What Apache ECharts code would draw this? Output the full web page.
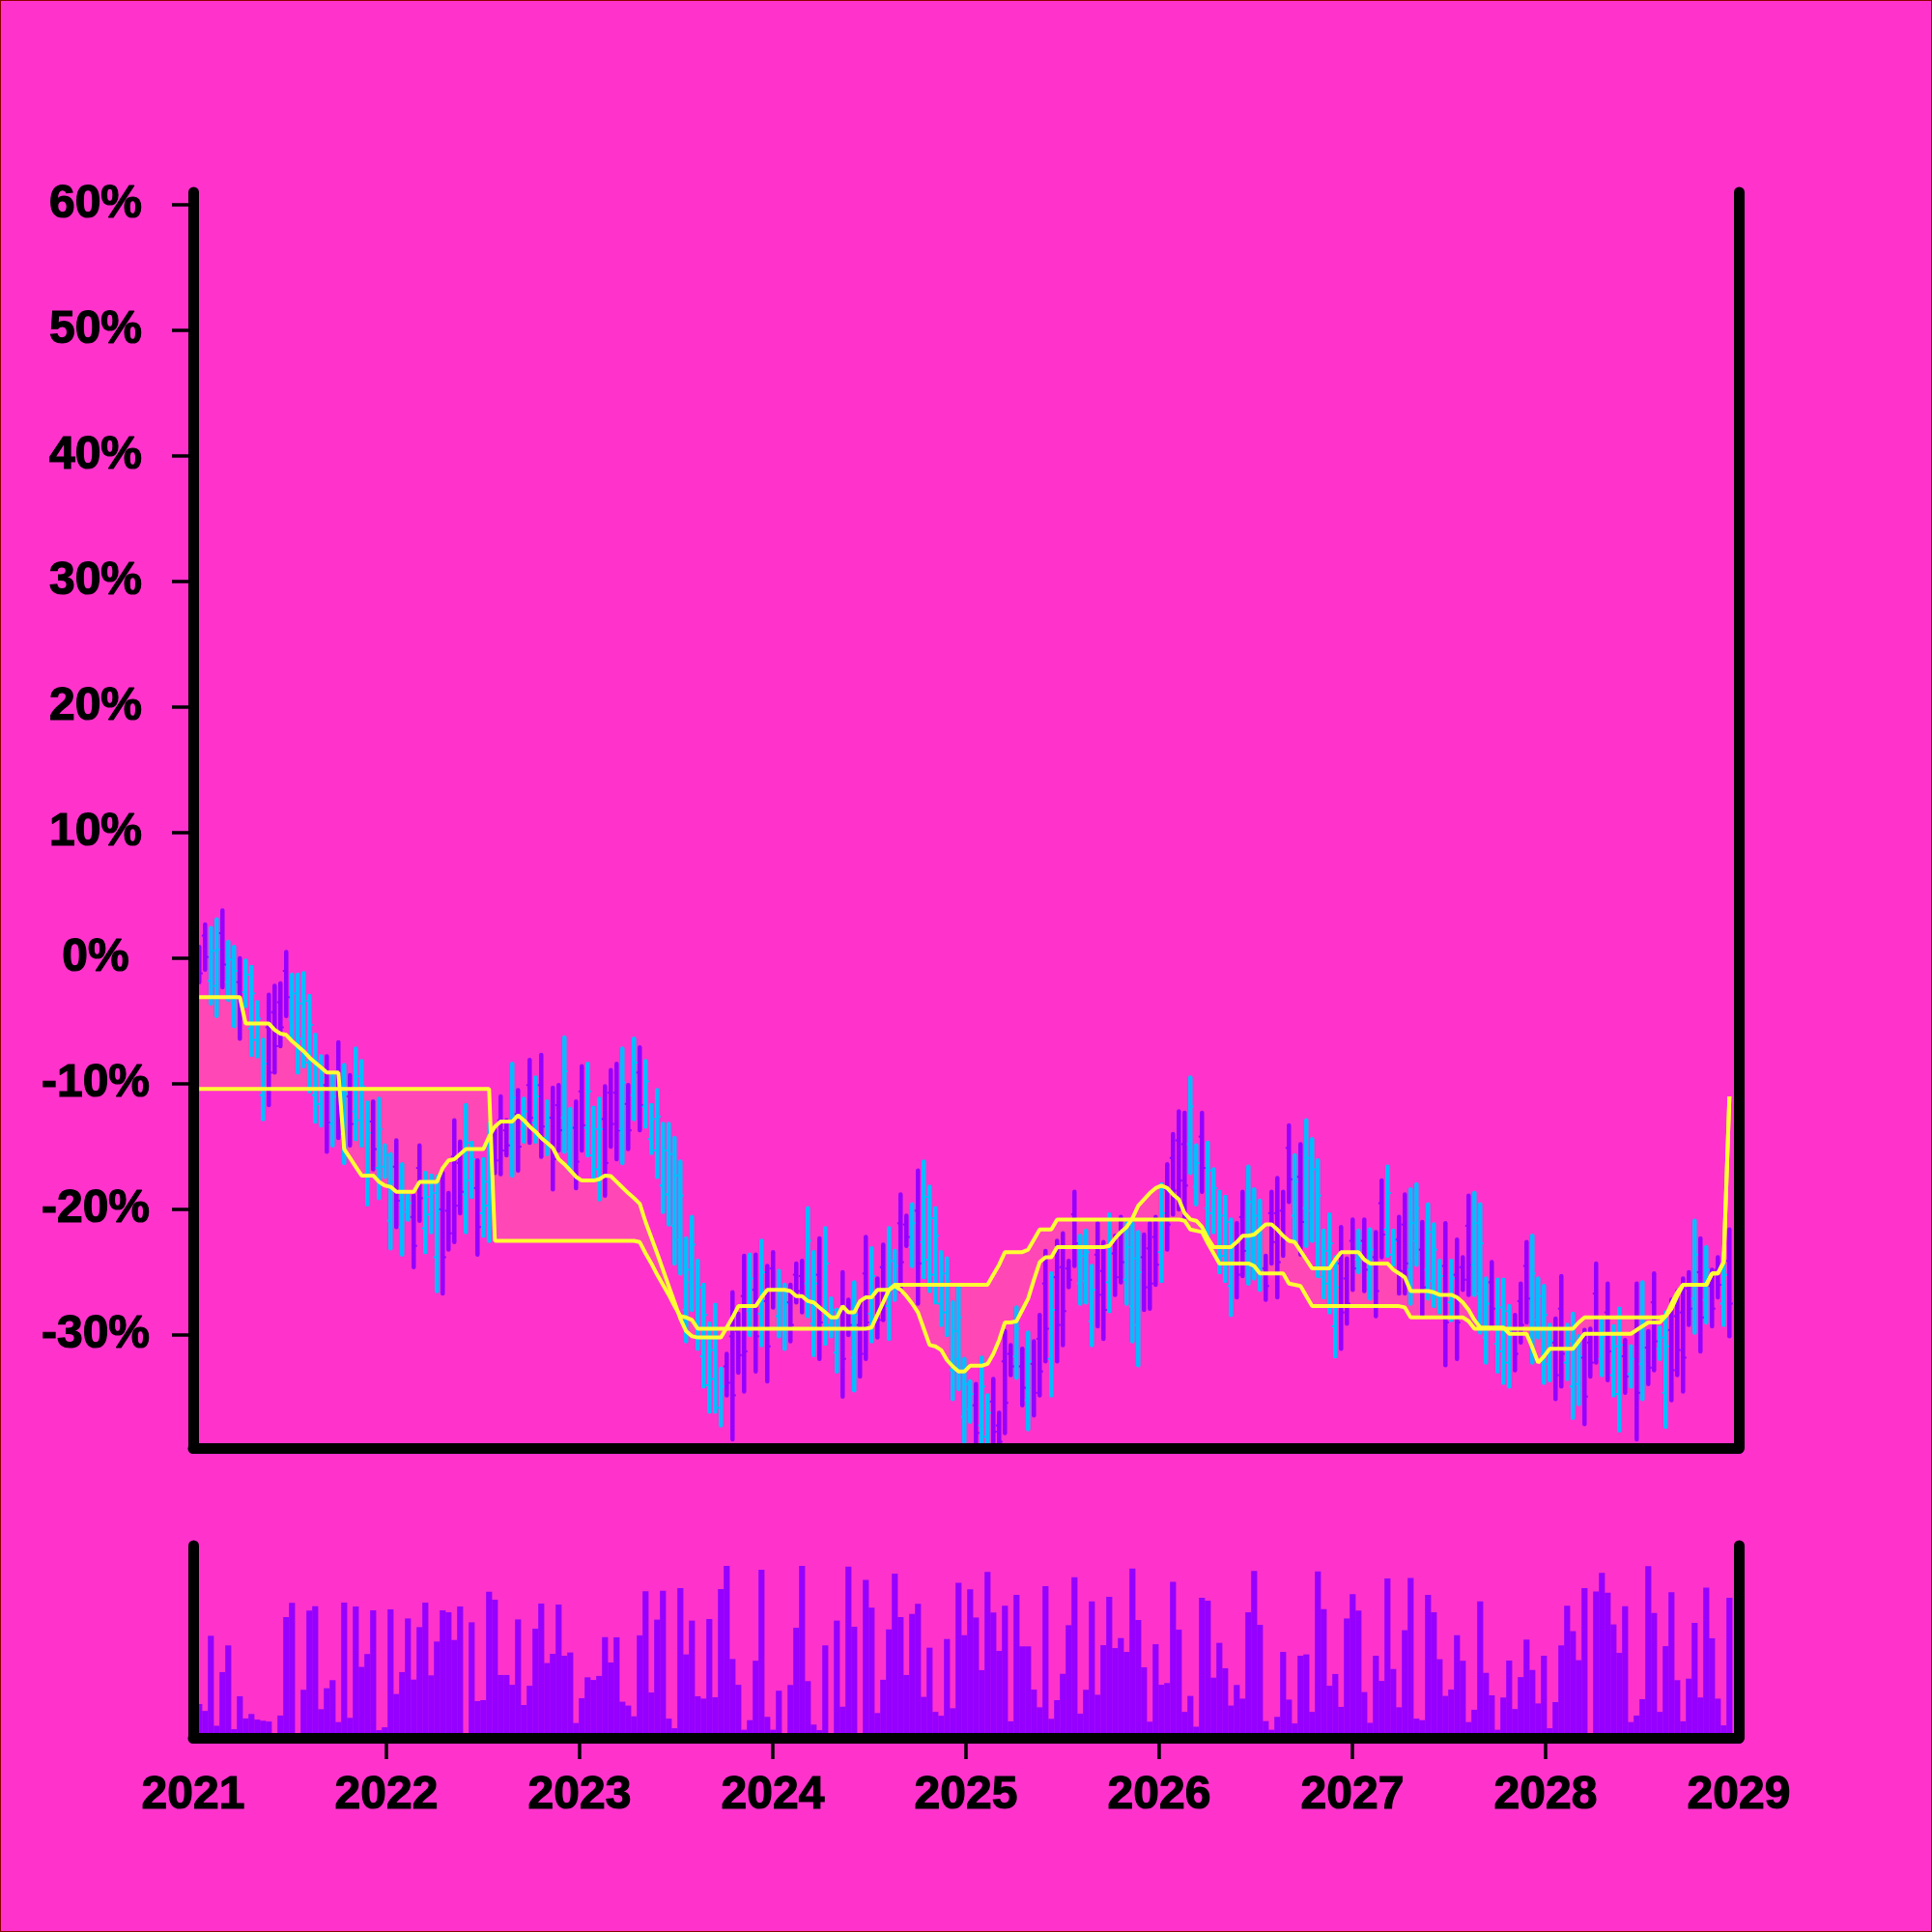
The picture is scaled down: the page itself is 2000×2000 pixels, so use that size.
<!DOCTYPE html>
<html>
<head>
<meta charset="utf-8">
<script src="https://cdn.jsdelivr.net/npm/echarts/dist/echarts.min.js"></script>
<style>
html,body{margin:0;padding:0;background:#ff33cc;}
#c{width:2000px;height:2000px;position:absolute;left:0;top:0;}
#frame{position:absolute;left:0;top:0;width:2000px;height:2000px;box-sizing:border-box;border:1px solid #8b0000;pointer-events:none;}
</style>
</head>
<body>
<div id="c"></div>
<div id="frame"></div>
<script>
// ---- data (percent values, 265 periods, ~11 days apart) ----
const high = [
0.9,2.7,2.4,3.1,3.8,1.3,0.9,0.0,-0.2,-0.7,
-3.5,-6.5,-2.9,-2.2,-2.0,0.5,-1.3,-1.3,-1.2,-3.0,
-6.1,-7.8,-7.8,-9.3,-6.7,-8.5,-9.3,-7.2,-8.2,-11.5,
-11.4,-11.2,-14.9,-15.6,-14.5,-16.4,-18.9,-18.9,-14.9,-17.1,
-17.3,-17.4,-17.1,-18.7,-12.9,-14.6,-11.7,-14.7,-16.1,-16.0,
-13.2,-13.7,-11.0,-12.9,-8.4,-10.5,-11.2,-8.1,-9.5,-7.7,
-11.4,-10.3,-10.1,-6.3,-12.0,-11.4,-8.6,-8.4,-11.9,-11.2,
-10.2,-8.9,-8.4,-7.2,-10.1,-6.4,-7.1,-8.2,-11.7,-10.5,
-13.2,-13.2,-14.3,-16.2,-22.3,-20.6,-24.1,-26.0,-29.1,-27.6,
-32.7,-31.5,-26.6,-28.3,-23.7,-23.6,-23.6,-22.5,-24.5,-23.4,
-24.9,-26.0,-26.0,-24.3,-24.1,-19.9,-23.4,-22.3,-21.5,-27.1,
-28.0,-25.0,-27.2,-25.8,-27.4,-22.2,-23.1,-25.5,-22.8,-21.5,
-23.3,-18.8,-20.5,-19.6,-16.9,-16.2,-18.2,-19.9,-23.4,-23.9,
-27.4,-26.2,-31.9,-33.7,-33.9,-31.8,-34.8,-33.5,-36.2,-29.7,
-30.8,-27.8,-31.1,-29.8,-30.5,-28.4,-23.3,-25.1,-22.5,-21.9,
-24.1,-18.6,-22.1,-21.7,-24.5,-21.1,-22.6,-20.4,-22.1,-20.6,
-21.1,-21.1,-21.8,-22.0,-21.1,-20.6,-18.0,-16.4,-14.0,-12.2,
-12.3,-9.5,-14.9,-12.3,-14.7,-16.8,-18.6,-19.0,-20.8,-21.1,
-18.6,-16.6,-18.4,-19.3,-23.7,-18.6,-17.5,-18.6,-13.3,-15.7,
-14.8,-12.9,-14.4,-16.1,-21.7,-20.4,-23.8,-21.4,-23.9,-20.8,
-21.7,-20.8,-21.6,-21.8,-17.7,-16.6,-21.7,-20.6,-18.8,-18.4,
-18.0,-21.0,-19.6,-21.2,-24.1,-21.1,-24.1,-22.4,-23.8,-18.9,
-18.7,-19.6,-25.5,-24.2,-25.6,-25.6,-27.7,-28.4,-25.9,-22.6,
-22.1,-25.5,-26.1,-29.2,-28.7,-25.3,-29.2,-28.3,-30.1,-29.6,
-29.5,-24.3,-28.8,-25.9,-29.3,-27.9,-30.4,-30.9,-25.9,-25.8,
-29.7,-25.1,-29.4,-28.2,-27.2,-26.5,-25.5,-25.0,-20.9,-22.3,
-23.0,-24.8,-23.8,-23.5,-21.6
];
const low = [
-1.9,-0.9,-3.6,-4.6,-2.3,-3.3,-5.4,-6.4,-3.8,-7.7,
-7.8,-12.8,-11.7,-9.1,-7.0,-4.6,-6.4,-9.1,-8.6,-10.6,
-13.0,-13.3,-15.4,-14.9,-14.3,-16.3,-14.9,-14.4,-14.9,-19.6,
-16.8,-19.1,-17.4,-23.1,-21.4,-23.6,-20.8,-24.6,-20.9,-23.4,
-21.8,-26.5,-26.7,-23.2,-22.6,-20.3,-21.8,-19.0,-23.6,-22.1,
-22.5,-17.1,-17.2,-15.7,-17.3,-16.9,-14.6,-14.7,-14.6,-15.8,
-15.6,-18.4,-15.3,-15.4,-16.9,-18.3,-15.3,-15.7,-17.4,-19.2,
-18.9,-15.0,-16.0,-16.3,-15.2,-12.8,-13.7,-13.4,-15.5,-17.4,
-20.2,-21.2,-24.3,-25.1,-30.5,-28.0,-31.1,-34.1,-36.1,-36.1,
-37.2,-34.8,-38.3,-33.0,-34.5,-30.0,-32.9,-30.8,-33.7,-27.8,
-30.1,-31.1,-30.5,-27.4,-28.2,-28.5,-31.6,-31.9,-30.7,-30.1,
-32.9,-34.9,-30.0,-34.4,-33.3,-31.9,-30.5,-30.2,-28.8,-30.3,
-27.2,-26.5,-22.9,-24.5,-27.5,-25.4,-26.5,-27.4,-29.2,-30.0,
-35.1,-34.3,-38.5,-36.9,-39.5,-39.5,-39.5,-39.5,-39.5,-37.8,
-33.2,-33.4,-35.6,-37.5,-36.4,-34.8,-32.1,-34.8,-32.1,-30.8,
-26.2,-24.5,-27.5,-27.4,-30.8,-29.3,-30.3,-28.1,-26.8,-25.8,
-27.5,-30.5,-32.4,-28.0,-27.9,-26.0,-25.7,-23.2,-20.4,-20.0,
-20.6,-17.1,-19.6,-18.6,-22.1,-21.8,-25.0,-25.7,-28.4,-27.0,
-25.3,-25.9,-25.5,-26.4,-27.2,-24.3,-27.0,-23.7,-19.4,-22.6,
-23.6,-22.9,-22.5,-25.3,-27.0,-28.2,-31.7,-31.1,-29.1,-26.4,
-25.0,-26.5,-27.1,-28.5,-23.8,-23.7,-24.4,-26.7,-26.7,-27.5,
-24.4,-28.4,-27.1,-27.7,-28.2,-32.4,-28.8,-31.9,-26.4,-26.8,
-26.8,-29.8,-32.2,-29.5,-32.9,-33.8,-34.1,-32.8,-30.6,-29.0,
-32.2,-30.2,-33.8,-33.6,-35.1,-34.1,-33.5,-36.6,-35.5,-37.1,
-33.3,-32.2,-33.2,-33.6,-34.8,-37.6,-34.6,-34.1,-38.3,-35.1,
-33.9,-32.8,-31.9,-37.3,-35.2,-33.2,-34.5,-29.2,-29.8,-31.3,
-29.0,-29.3,-27.0,-29.2,-30.1
];
const open = [
0.2,1.8,-1.8,-2.2,2.0,-1.9,-3.5,-1.9,-2.7,-5.6,
-6.5,-10.9,-5.5,-4.3,-3.5,-1.0,-4.9,-6.8,-6.4,-8.3,
-10.9,-11.6,-10.1,-13.2,-9.0,-14.0,-11.0,-12.2,-12.9,-17.2,
-13.0,-16.7,-16.6,-20.9,-16.6,-21.4,-20.2,-20.6,-16.7,-21.5,
-20.4,-23.8,-20.0,-20.1,-15.8,-16.3,-18.8,-17.7,-18.3,-20.3,
-19.7,-14.7,-12.9,-13.7,-14.6,-12.4,-13.6,-10.1,-13.1,-10.1,
-14.3,-12.7,-11.7,-12.7,-15.4,-13.5,-10.6,-13.5,-15.7,-16.8,
-12.8,-10.7,-10.7,-13.6,-11.6,-10.9,-9.1,-11.8,-14.4,-15.3,
-18.1,-18.8,-21.3,-22.4,-28.0,-25.8,-29.0,-31.7,-34.0,-33.5,
-35.8,-32.5,-30.1,-29.7,-26.9,-28.1,-26.4,-28.3,-27.3,-24.7,
-28.5,-29.6,-27.4,-25.2,-25.3,-25.9,-29.1,-25.2,-27.9,-29.2,
-31.4,-28.0,-28.0,-31.8,-29.2,-25.1,-28.3,-26.9,-24.6,-27.7,
-26.0,-21.1,-21.2,-23.0,-20.1,-22.6,-24.0,-25.2,-27.5,-28.2,
-32.8,-31.9,-36.5,-35.9,-35.6,-37.2,-38.1,-35.3,-37.2,-32.1,
-31.5,-31.7,-32.5,-35.2,-32.3,-30.3,-25.9,-31.9,-25.4,-24.6,
-24.7,-20.4,-25.9,-25.7,-28.9,-23.6,-24.9,-25.8,-23.5,-22.2,
-25.6,-27.7,-29.2,-23.8,-23.1,-22.2,-23.4,-18.4,-15.9,-14.5,
-14.8,-14.8,-18.2,-14.2,-19.9,-20.3,-23.1,-23.7,-26.1,-22.9,
-20.6,-23.1,-23.4,-24.3,-24.7,-20.3,-20.3,-20.1,-15.1,-20.5,
-17.4,-19.9,-20.1,-22.5,-25.4,-25.9,-29.3,-24.3,-25.5,-22.5,
-24.0,-22.5,-25.5,-23.8,-19.5,-21.6,-23.6,-22.4,-21.2,-24.8,
-22.5,-23.2,-24.8,-25.7,-27.0,-24.5,-27.4,-25.2,-24.6,-21.3,
-24.4,-26.7,-30.2,-25.8,-30.7,-31.3,-32.2,-29.7,-27.3,-24.5,
-29.2,-28.8,-31.5,-32.3,-30.6,-27.9,-32.2,-34.1,-33.9,-31.8,
-30.6,-26.7,-31.9,-28.2,-33.2,-34.7,-31.7,-33.1,-29.6,-32.3,
-31.0,-27.4,-31.1,-34.6,-29.6,-28.5,-28.2,-26.3,-27.1,-25.0,
-27.2,-26.1,-24.8,-27.5,-24.1
];
const close = [
-1.2,0.1,0.6,0.7,-0.5,-0.1,-1.0,-4.5,-1.3,-2.8,
-4.8,-8.4,-9.1,-7.0,-5.5,-3.1,-2.8,-3.6,-3.4,-5.3,
-8.2,-9.5,-13.1,-11.0,-12.0,-10.8,-13.2,-9.4,-10.2,-13.9,
-15.2,-13.6,-15.7,-17.8,-19.3,-18.6,-19.5,-22.9,-19.1,-19.0,
-18.7,-20.1,-23.8,-21.9,-19.7,-18.6,-14.7,-16.0,-21.4,-17.8,
-16.0,-16.1,-15.3,-14.9,-11.1,-15.0,-12.2,-12.7,-11.0,-13.4,
-12.7,-16.0,-13.7,-9.0,-13.5,-16.2,-13.3,-10.6,-13.6,-13.6,
-16.3,-13.2,-13.7,-9.9,-13.7,-8.3,-11.7,-9.8,-12.8,-12.6,
-15.3,-15.6,-17.3,-18.9,-24.8,-22.8,-26.2,-28.4,-31.2,-30.2,
-34.1,-33.8,-34.8,-31.6,-31.3,-25.5,-30.1,-25.0,-30.9,-26.5,
-26.5,-27.5,-29.2,-26.5,-27.0,-22.5,-25.9,-29.0,-24.3,-28.0,
-29.5,-31.9,-29.2,-28.4,-31.5,-29.0,-25.3,-28.8,-27.0,-24.1,
-24.5,-24.2,-22.2,-21.1,-24.3,-19.0,-20.7,-22.1,-25.1,-25.7,
-29.7,-28.6,-33.9,-34.7,-37.8,-34.1,-36.2,-37.7,-38.5,-35.4,
-32.5,-29.5,-34.2,-32.1,-34.6,-32.9,-29.5,-28.0,-29.2,-28.1,
-25.6,-22.7,-23.7,-23.4,-26.4,-26.8,-28.0,-22.7,-25.4,-24.2,
-23.0,-23.9,-25.0,-26.2,-25.9,-24.4,-20.3,-21.2,-18.5,-17.7,
-18.1,-11.8,-16.3,-16.7,-16.9,-18.3,-20.5,-21.0,-23.1,-25.2,
-23.3,-19.4,-20.5,-21.4,-26.1,-22.6,-24.2,-22.2,-17.6,-17.8,
-21.0,-15.9,-16.8,-18.9,-23.3,-22.7,-26.2,-28.2,-27.5,-24.7,
-22.7,-24.8,-23.2,-26.5,-22.0,-18.7,-22.5,-24.9,-24.3,-21.1,
-19.9,-26.2,-21.8,-23.2,-25.3,-29.0,-25.5,-29.0,-25.6,-24.4,
-21.1,-22.7,-27.5,-27.9,-27.8,-28.1,-29.6,-31.5,-29.2,-27.1,
-25.1,-26.9,-28.4,-30.5,-33.2,-31.5,-30.5,-30.8,-31.7,-34.9,
-32.2,-29.8,-30.1,-31.3,-30.9,-30.8,-33.3,-31.9,-34.6,-28.6,
-32.6,-30.5,-30.2,-30.9,-32.8,-31.2,-31.8,-27.9,-23.6,-28.6,
-24.8,-27.9,-26.0,-25.2,-27.5
];
const volume = [
17.6,14.0,53.1,6.3,34.2,48.1,4.5,21.6,10.1,12.4,
9.5,8.9,8.5,0,11.6,62.8,70.2,0,25.0,66.2,
68.5,14.9,25.8,30.0,8.2,70.4,10.4,68.3,36.9,43.6,
66.3,4.0,5.5,66.8,22.8,34.2,62.1,30.3,57.6,70.4,
32.5,50.1,66.3,65.3,50.9,68.3,0,60.1,19.1,19.6,
76.0,71.9,32.7,32.7,27.6,61.6,17.1,27.1,56.8,69.9,
38.9,43.7,69.3,42.7,44.4,7.7,20.6,31.5,30.1,32.2,
52.4,39.2,52.3,18.8,16.8,11.2,53.3,76.2,23.6,61.5,
76.5,10.0,5.0,77.9,43.4,61.0,21.6,20.4,61.8,21.1,
77.4,89.4,41.0,27.6,4.2,9.2,40.1,87.4,10.9,4.2,
24.5,0,27.5,57.3,89.4,29.5,6.9,4.0,48.1,0,
61.0,16.2,89.1,57.8,0,82.1,67.7,12.9,30.2,56.4,
85.4,62.8,32.7,64.5,69.7,21.3,46.9,13.5,11.5,51.4,
15.4,80.7,53.4,77.2,62.6,35.2,86.3,65.2,45.2,68.7,
8.6,74.4,47.6,47.6,25.1,15.9,78.9,9.9,19.6,33.3,
58.6,83.6,12.6,25.0,71.0,22.4,48.2,73.4,46.7,51.9,
44.7,88.1,61.3,36.7,8.4,48.7,27.6,28.5,81.2,56.3,
13.5,21.8,5.8,72.9,71.4,31.3,49.4,36.2,16.8,27.5,
20.4,65.3,86.8,58.8,8.7,4.2,10.9,44.7,19.9,7.5,
42.7,43.4,13.5,86.6,67.0,27.1,33.2,16.1,62.1,74.8,
66.2,23.8,7.8,42.7,29.6,82.9,35.8,15.9,56.0,83.2,
10.0,9.2,74.4,65.3,40.9,21.8,25.1,53.4,40.1,8.2,
14.6,71.0,33.8,22.1,4.2,21.0,40.2,15.0,31.6,51.1,
35.3,17.9,42.7,5.0,18.6,48.1,68.7,55.5,40.4,77.9,
0,76.1,85.8,75.5,59.0,44.2,68.5,8.2,11.6,20.1,
89.3,65.0,13.5,47.7,75.7,30.0,8.6,30.8,59.8,21.0,
78.1,51.8,20.4,6.5,72.9
];
const spanA = [
-3.1,-3.1,-3.1,-3.1,-3.1,-3.1,-3.1,-3.1,-5.2,-5.2,
-5.2,-5.2,-5.2,-5.7,-6.0,-6.1,-6.6,-7.0,-7.4,-7.9,
-8.3,-8.7,-9.1,-9.1,-9.1,-15.2,-15.9,-16.6,-17.3,-17.3,
-17.3,-17.8,-18.1,-18.2,-18.6,-18.6,-18.6,-18.6,-17.8,-17.8,
-17.8,-17.8,-16.7,-16.1,-16.0,-15.6,-15.2,-15.2,-15.2,-15.2,
-14.2,-13.4,-13.0,-13.0,-13.0,-12.5,-12.9,-13.4,-13.8,-14.3,
-14.7,-15.1,-16.0,-16.4,-16.9,-17.4,-17.7,-17.7,-17.7,-17.6,
-17.3,-17.35,-17.8,-18.25,-18.7,-19.1,-19.55,-21.0,-22.25,-23.5,
-24.8,-26.1,-27.4,-28.7,-29.7,-30.1,-30.2,-30.2,-30.2,-30.2,
-30.2,-29.4,-28.6,-27.7,-27.7,-27.7,-27.7,-27.0,-26.4,-26.4,
-26.4,-26.4,-26.5,-26.9,-26.9,-27.3,-27.4,-27.8,-28.2,-28.6,
-28.6,-27.7,-28.2,-28.2,-27.3,-27.0,-27.0,-26.4,-26.4,-26.4,
-26.1,-26.4,-26.9,-27.5,-28.2,-29.5,-30.8,-30.9,-31.2,-32.0,
-32.5,-32.9,-32.9,-32.45,-32.45,-32.45,-32.3,-31.5,-30.4,-29.0,
-29.0,-28.9,-28.0,-27.1,-25.6,-24.2,-23.8,-23.8,-23.0,-23.0,
-23.0,-23.0,-23.0,-23.0,-23.0,-23.0,-23.0,-22.9,-22.3,-21.8,
-21.4,-20.7,-19.7,-19.2,-18.7,-18.3,-18.1,-18.3,-18.8,-19.2,
-20.3,-20.8,-20.9,-21.4,-22.3,-23.0,-23.0,-23.0,-23.0,-22.6,
-22.1,-22.1,-22.0,-21.6,-21.2,-21.2,-21.6,-22.1,-22.5,-22.6,
-23.3,-24.0,-24.7,-24.7,-24.7,-24.7,-24.0,-23.4,-23.4,-23.4,
-23.4,-24.0,-24.3,-24.3,-24.3,-24.3,-24.8,-25.1,-25.4,-26.5,
-26.5,-26.5,-26.5,-26.6,-26.8,-26.8,-26.8,-27.0,-27.4,-28.0,
-28.8,-29.4,-29.4,-29.4,-29.4,-29.4,-29.9,-29.9,-29.9,-29.9,
-31.0,-32.2,-31.7,-31.1,-31.1,-31.1,-31.1,-31.1,-30.5,-29.9,
-29.9,-29.9,-29.9,-29.9,-29.9,-29.9,-29.9,-29.9,-29.6,-29.3,
-29.0,-29.0,-29.0,-28.5,-27.9,-26.9,-26.0,-26.0,-26.0,-26.0,
-26.0,-25.1,-25.1,-24.2,-11.0
];
const spanB = [
-10.4,-10.4,-10.4,-10.4,-10.4,-10.4,-10.4,-10.4,-10.4,-10.4,
-10.4,-10.4,-10.4,-10.4,-10.4,-10.4,-10.4,-10.4,-10.4,-10.4,
-10.4,-10.4,-10.4,-10.4,-10.4,-10.4,-10.4,-10.4,-10.4,-10.4,
-10.4,-10.4,-10.4,-10.4,-10.4,-10.4,-10.4,-10.4,-10.4,-10.4,
-10.4,-10.4,-10.4,-10.4,-10.4,-10.4,-10.4,-10.4,-10.4,-10.4,
-10.4,-22.5,-22.5,-22.5,-22.5,-22.5,-22.5,-22.5,-22.5,-22.5,
-22.5,-22.5,-22.5,-22.5,-22.5,-22.5,-22.5,-22.5,-22.5,-22.5,
-22.5,-22.5,-22.5,-22.5,-22.5,-22.5,-22.6,-23.5,-24.3,-25.2,
-26.0,-26.8,-27.7,-28.5,-28.6,-28.8,-29.5,-29.5,-29.5,-29.5,
-29.5,-29.5,-29.5,-29.5,-29.5,-29.5,-29.5,-29.5,-29.5,-29.5,
-29.5,-29.5,-29.5,-29.5,-29.5,-29.5,-29.5,-29.5,-29.5,-29.5,
-29.5,-29.5,-29.5,-29.5,-29.5,-29.5,-29.4,-28.4,-27.4,-26.4,
-26.0,-26.0,-26.0,-26.0,-26.0,-26.0,-26.0,-26.0,-26.0,-26.0,
-26.0,-26.0,-26.0,-26.0,-26.0,-26.0,-26.0,-25.2,-24.4,-23.4,
-23.4,-23.4,-23.4,-23.2,-22.4,-21.6,-21.6,-21.6,-20.8,-20.8,
-20.8,-20.8,-20.8,-20.8,-20.8,-20.8,-20.8,-20.8,-20.8,-20.8,
-20.8,-20.8,-20.8,-20.8,-20.8,-20.8,-20.8,-20.8,-20.8,-20.8,
-20.9,-21.6,-21.7,-21.8,-22.7,-23.5,-24.3,-24.3,-24.3,-24.3,
-24.3,-24.3,-24.5,-25.1,-25.1,-25.1,-25.1,-25.1,-25.9,-26.0,
-26.1,-26.9,-27.7,-27.7,-27.7,-27.7,-27.7,-27.7,-27.7,-27.7,
-27.7,-27.7,-27.7,-27.7,-27.7,-27.7,-27.7,-27.7,-27.8,-28.6,
-28.6,-28.6,-28.6,-28.6,-28.6,-28.6,-28.6,-28.6,-28.6,-28.9,
-29.5,-29.5,-29.5,-29.5,-29.5,-29.5,-29.5,-29.5,-29.5,-29.5,
-29.5,-29.5,-29.5,-29.5,-29.5,-29.5,-29.5,-29.5,-29.0,-28.6,
-28.6,-28.6,-28.6,-28.6,-28.6,-28.6,-28.6,-28.6,-28.6,-28.6,
-28.6,-28.6,-28.6,-28.5,-27.5,-26.6,-26.0,-26.0,-26.0,-26.0,
-26.0,-25.1,-25.1,-24.2,-11.0
];
const yearTicks = [2021, 2022, 2023, 2024, 2025, 2026, 2027, 2028, 2029];
const pctTicks = [60, 50, 40, 30, 20, 10, 0, -10, -20, -30];

// time of each period, in decimal years (first period ~12 days into 2021, ~11 days apart)
const T0 = 2021.0315, STEP = 0.03;
const t = high.map((_, i) => T0 + STEP * i);
const N = t.length;

const CYAN = '#00bfff', PURPLE = '#9500ff', YELLOW = '#ffff33', BAND = '#ff47b6';
const FONT = "'Liberation Sans', Arial, Helvetica, sans-serif";

const ohlcData = t.map((x, i) => [x, open[i], close[i], low[i], high[i]]);
const volData = t.map((x, i) => [x, volume[i]]);
const aData = t.map((x, i) => [x, spanA[i]]);
const bData = t.map((x, i) => [x, spanB[i]]);

const axisLineStyle = { color: '#000', width: 11, cap: 'round' };
const labelText = { fontSize: 48, fontWeight: 'bold', fontFamily: FONT, color: '#000',
                    textBorderColor: '#000', textBorderWidth: 1.2 };

const chart = echarts.init(document.getElementById('c'), null, { renderer: 'canvas' });
chart.setOption({
  animation: false,
  backgroundColor: '#ff33cc',
  grid: [
    { left: 200, right: 200, top: 199, height: 1300 },
    { left: 200, right: 200, top: 1600, height: 199 }
  ],
  xAxis: [
    { type: 'value', gridIndex: 0, min: 2021, max: 2029, z: 10,
      axisLine: { show: true, onZero: false, lineStyle: axisLineStyle },
      axisTick: { show: false }, axisLabel: { show: false }, splitLine: { show: false } },
    { type: 'value', gridIndex: 1, min: 2021, max: 2029, z: 10,
      axisLine: { show: true, onZero: false, lineStyle: axisLineStyle },
      axisTick: { show: true, length: 22, lineStyle: { color: '#000', width: 3.5 },
                  customValues: yearTicks.slice(1, -1) },
      axisLabel: Object.assign({ show: true, customValues: yearTicks, showMinLabel: true, showMaxLabel: true,
                   formatter: v => String(v), margin: 36 }, labelText),
      splitLine: { show: false } }
  ],
  yAxis: [
    { type: 'value', gridIndex: 0, min: -39, max: 61, z: 10,
      axisLine: { show: true, onZero: false, lineStyle: axisLineStyle },
      axisTick: { show: true, length: 22, lineStyle: { color: '#000', width: 3.5 }, customValues: pctTicks },
      axisLabel: Object.assign({ show: true, customValues: pctTicks, formatter: v => v + '%', align: 'center',
                   margin: 101 }, labelText),
      splitLine: { show: false } },
    { type: 'value', gridIndex: 0, position: 'right', min: -39, max: 61, z: 10,
      axisLine: { show: true, onZero: false, lineStyle: axisLineStyle },
      axisTick: { show: false }, axisLabel: { show: false }, splitLine: { show: false } },
    { type: 'value', gridIndex: 1, min: 0, max: 100, z: 10,
      axisLine: { show: true, onZero: false, lineStyle: axisLineStyle },
      axisTick: { show: false }, axisLabel: { show: false }, splitLine: { show: false } },
    { type: 'value', gridIndex: 1, position: 'right', min: 0, max: 100, z: 10,
      axisLine: { show: true, onZero: false, lineStyle: axisLineStyle },
      axisTick: { show: false }, axisLabel: { show: false }, splitLine: { show: false } }
  ],
  series: [
    { // cloud between the two spans
      type: 'custom', xAxisIndex: 0, yAxisIndex: 0, z: 1, silent: true, clip: true,
      data: [[t[0], spanA[0]]],
      renderItem: (params, api) => {
        const pts = [];
        for (let i = 0; i < N; i++) pts.push(api.coord([t[i], spanA[i]]));
        for (let i = N - 1; i >= 0; i--) pts.push(api.coord([t[i], spanB[i]]));
        return { type: 'polygon', shape: { points: pts }, style: { fill: BAND } };
      }
    },
    { // OHLC bars
      type: 'custom', xAxisIndex: 0, yAxisIndex: 0, z: 3, silent: true, clip: true,
      data: ohlcData,
      encode: { x: 0, y: [1, 2, 3, 4] },
      renderItem: (params, api) => {
        const x = api.value(0), o = api.value(1), c = api.value(2), l = api.value(3), h = api.value(4);
        const pH = api.coord([x, h]), pL = api.coord([x, l]);
        const pO = api.coord([x, o]), pC = api.coord([x, c]);
        const col = c >= o ? CYAN : PURPLE;
        return { type: 'group', children: [
          { type: 'line', shape: { x1: pH[0], y1: pH[1], x2: pL[0], y2: pL[1] },
            style: { stroke: col, lineWidth: 4.5, lineCap: 'round' } },
          { type: 'line', shape: { x1: pO[0] - 3.5, y1: pO[1], x2: pO[0], y2: pO[1] },
            style: { stroke: col, lineWidth: 2 } },
          { type: 'line', shape: { x1: pC[0], y1: pC[1], x2: pC[0] + 3.5, y2: pC[1] },
            style: { stroke: col, lineWidth: 2 } }
        ] };
      }
    },
    { type: 'line', xAxisIndex: 0, yAxisIndex: 0, z: 4, data: aData, showSymbol: false, symbol: 'none',
      silent: true, lineStyle: { color: YELLOW, width: 4 } },
    { type: 'line', xAxisIndex: 0, yAxisIndex: 0, z: 4, data: bData, showSymbol: false, symbol: 'none',
      silent: true, lineStyle: { color: YELLOW, width: 4 } },
    { type: 'bar', xAxisIndex: 1, yAxisIndex: 2, z: 3, data: volData, barWidth: 6.2, silent: true,
      itemStyle: { color: PURPLE } }
  ]
});
</script>
</body>
</html>
